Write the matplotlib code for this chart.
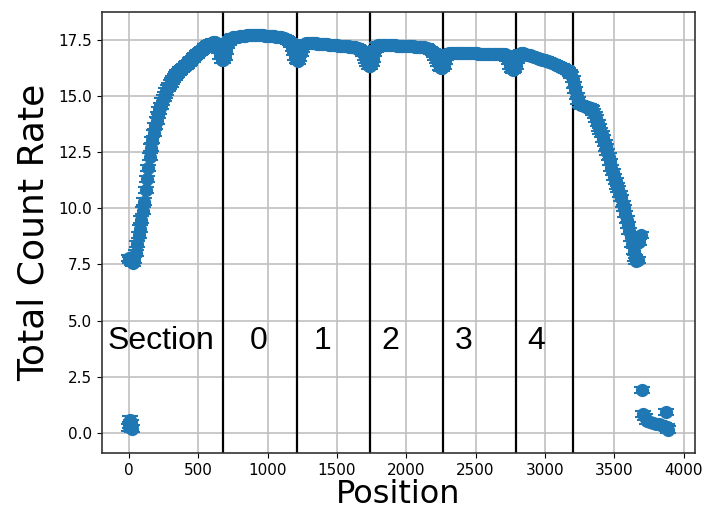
import numpy as np
import matplotlib
matplotlib.use("Agg")
import matplotlib.pyplot as plt

# ---- data ----
main_pos = np.arange(0, 3700, 10)
main_rate = [
    7.80, 7.70, 7.60, 7.55, 7.70, 8.00, 8.40, 8.80, 9.10, 9.50,
    9.90, 10.30, 10.80, 11.30, 11.80, 12.30, 12.70, 13.05, 13.35, 13.65,
    13.90, 14.15, 14.35, 14.55, 14.75, 14.90, 15.05, 15.20, 15.35, 15.45,
    15.55, 15.65, 15.75, 15.85, 15.93, 16.00, 16.07, 16.13, 16.20, 16.25,
    16.30, 16.35, 16.40, 16.47, 16.53, 16.60, 16.65, 16.72, 16.78, 16.84,
    16.90, 16.95, 17.00, 17.05, 17.10, 17.15, 17.20, 17.25, 17.30, 17.33,
    17.36, 17.38, 17.40, 17.35, 17.25, 17.05, 16.80, 16.60, 16.60, 16.75,
    17.00, 17.25, 17.40, 17.50, 17.55, 17.60, 17.60, 17.62, 17.63, 17.64,
    17.65, 17.66, 17.67, 17.68, 17.68, 17.69, 17.69, 17.70, 17.70, 17.70,
    17.71, 17.70, 17.70, 17.71, 17.70, 17.69, 17.70, 17.69, 17.68, 17.68,
    17.67, 17.67, 17.66, 17.66, 17.65, 17.65, 17.64, 17.63, 17.62, 17.62,
    17.60, 17.58, 17.56, 17.54, 17.50, 17.45, 17.40, 17.30, 17.15, 16.95,
    16.75, 16.60, 16.55, 16.70, 16.90, 17.10, 17.25, 17.32, 17.35, 17.36,
    17.37, 17.36, 17.36, 17.35, 17.34, 17.34, 17.33, 17.33, 17.32, 17.31,
    17.30, 17.30, 17.29, 17.29, 17.28, 17.27, 17.27, 17.26, 17.26, 17.25,
    17.25, 17.24, 17.23, 17.23, 17.22, 17.22, 17.21, 17.20, 17.20, 17.19,
    17.18, 17.18, 17.17, 17.16, 17.15, 17.13, 17.10, 17.05, 17.00, 16.90,
    16.75, 16.60, 16.45, 16.35, 16.35, 16.45, 16.65, 16.90, 17.10, 17.20,
    17.25, 17.27, 17.28, 17.28, 17.28, 17.27, 17.27, 17.27, 17.26, 17.26,
    17.25, 17.25, 17.25, 17.24, 17.24, 17.23, 17.23, 17.23, 17.22, 17.22,
    17.22, 17.21, 17.21, 17.20, 17.20, 17.20, 17.19, 17.19, 17.18, 17.18,
    17.18, 17.17, 17.17, 17.16, 17.15, 17.14, 17.10, 17.05, 17.00, 16.95,
    16.85, 16.75, 16.60, 16.45, 16.30, 16.25, 16.25, 16.35, 16.55, 16.75,
    16.85, 16.90, 16.92, 16.93, 16.93, 16.93, 16.93, 16.92, 16.92, 16.92,
    16.92, 16.91, 16.91, 16.91, 16.90, 16.90, 16.90, 16.90, 16.89, 16.89,
    16.89, 16.89, 16.88, 16.88, 16.88, 16.88, 16.87, 16.87, 16.87, 16.87,
    16.87, 16.87, 16.87, 16.87, 16.87, 16.88, 16.88, 16.88, 16.87, 16.86,
    16.85, 16.85, 16.80, 16.70, 16.55, 16.35, 16.20, 16.15, 16.20, 16.35,
    16.60, 16.75, 16.85, 16.90, 16.90, 16.88, 16.86, 16.84, 16.82, 16.80,
    16.78, 16.76, 16.74, 16.72, 16.70, 16.68, 16.66, 16.64, 16.62, 16.60,
    16.59, 16.57, 16.55, 16.52, 16.50, 16.47, 16.45, 16.42, 16.39, 16.36,
    16.33, 16.30, 16.27, 16.24, 16.21, 16.18, 16.14, 16.10, 16.02, 15.92,
    15.75, 15.50, 15.25, 15.00, 14.80, 14.65, 14.60, 14.58, 14.55, 14.53,
    14.52, 14.50, 14.48, 14.45, 14.40, 14.30, 14.15, 14.00, 13.80, 13.60,
    13.45, 13.30, 13.10, 12.90, 12.70, 12.50, 12.30, 12.05, 11.80, 11.60,
    11.40, 11.20, 11.00, 10.85, 10.65, 10.45, 10.20, 10.00, 9.75, 9.50,
    9.25, 9.00, 8.70, 8.40, 8.10, 7.80, 7.65, 7.70, 8.50, 8.80,
]
low_pos = [0, 5, 10, 15, 20, 3697, 3704, 3720, 3740, 3760, 3780, 3800,
           3820, 3840, 3860, 3870, 3880, 3890]
low_rate = [0.25, 0.35, 0.60, 0.45, 0.20, 1.90, 0.85, 0.70, 0.55, 0.50,
            0.45, 0.42, 0.40, 0.35, 0.30, 0.95, 0.25, 0.15]
rate_err = 0.14

section_bounds = [675, 1213, 1742, 2268, 2790, 3205]
section_labels = ["Section", "0", "1", "2", "3", "4"]
label_pos = [231, 937, 1398, 1888, 2414, 2940]
label_y = 4.1

# ---- figure ----
fig = plt.figure(figsize=(7.03, 5.14), dpi=100)
ax = fig.add_axes([0.145, 0.119, 0.844, 0.858])

pos = np.concatenate([main_pos, low_pos])
rate = np.concatenate([main_rate, low_rate])
ax.errorbar(pos, rate, yerr=rate_err, fmt='o', color='#1f77b4',
            ms=8.5, capsize=6, elinewidth=1.5, capthick=1.5, zorder=3)

for b in section_bounds:
    ax.axvline(b, color='black', lw=1.6, zorder=2)

for t, x in zip(section_labels, label_pos):
    ax.text(x, label_y, t, ha='center', va='center', fontsize=23,
            family='Liberation Sans', zorder=4)

ax.grid(True, color='#c0c0c0', lw=1.2)
ax.set_axisbelow(True)
ax.set_xticks([0, 500, 1000, 1500, 2000, 2500, 3000, 3500, 4000])
ax.set_yticks([0.0, 2.5, 5.0, 7.5, 10.0, 12.5, 15.0, 17.5])
ax.tick_params(labelsize=11)
ax.set_xlabel("Position", fontsize=23, labelpad=1)
ax.set_ylabel("Total Count Rate", fontsize=26, labelpad=6)
for s in ax.spines.values():
    s.set_color('#333333')
    s.set_linewidth(1.2)

fig.savefig("out.png", dpi=100)
